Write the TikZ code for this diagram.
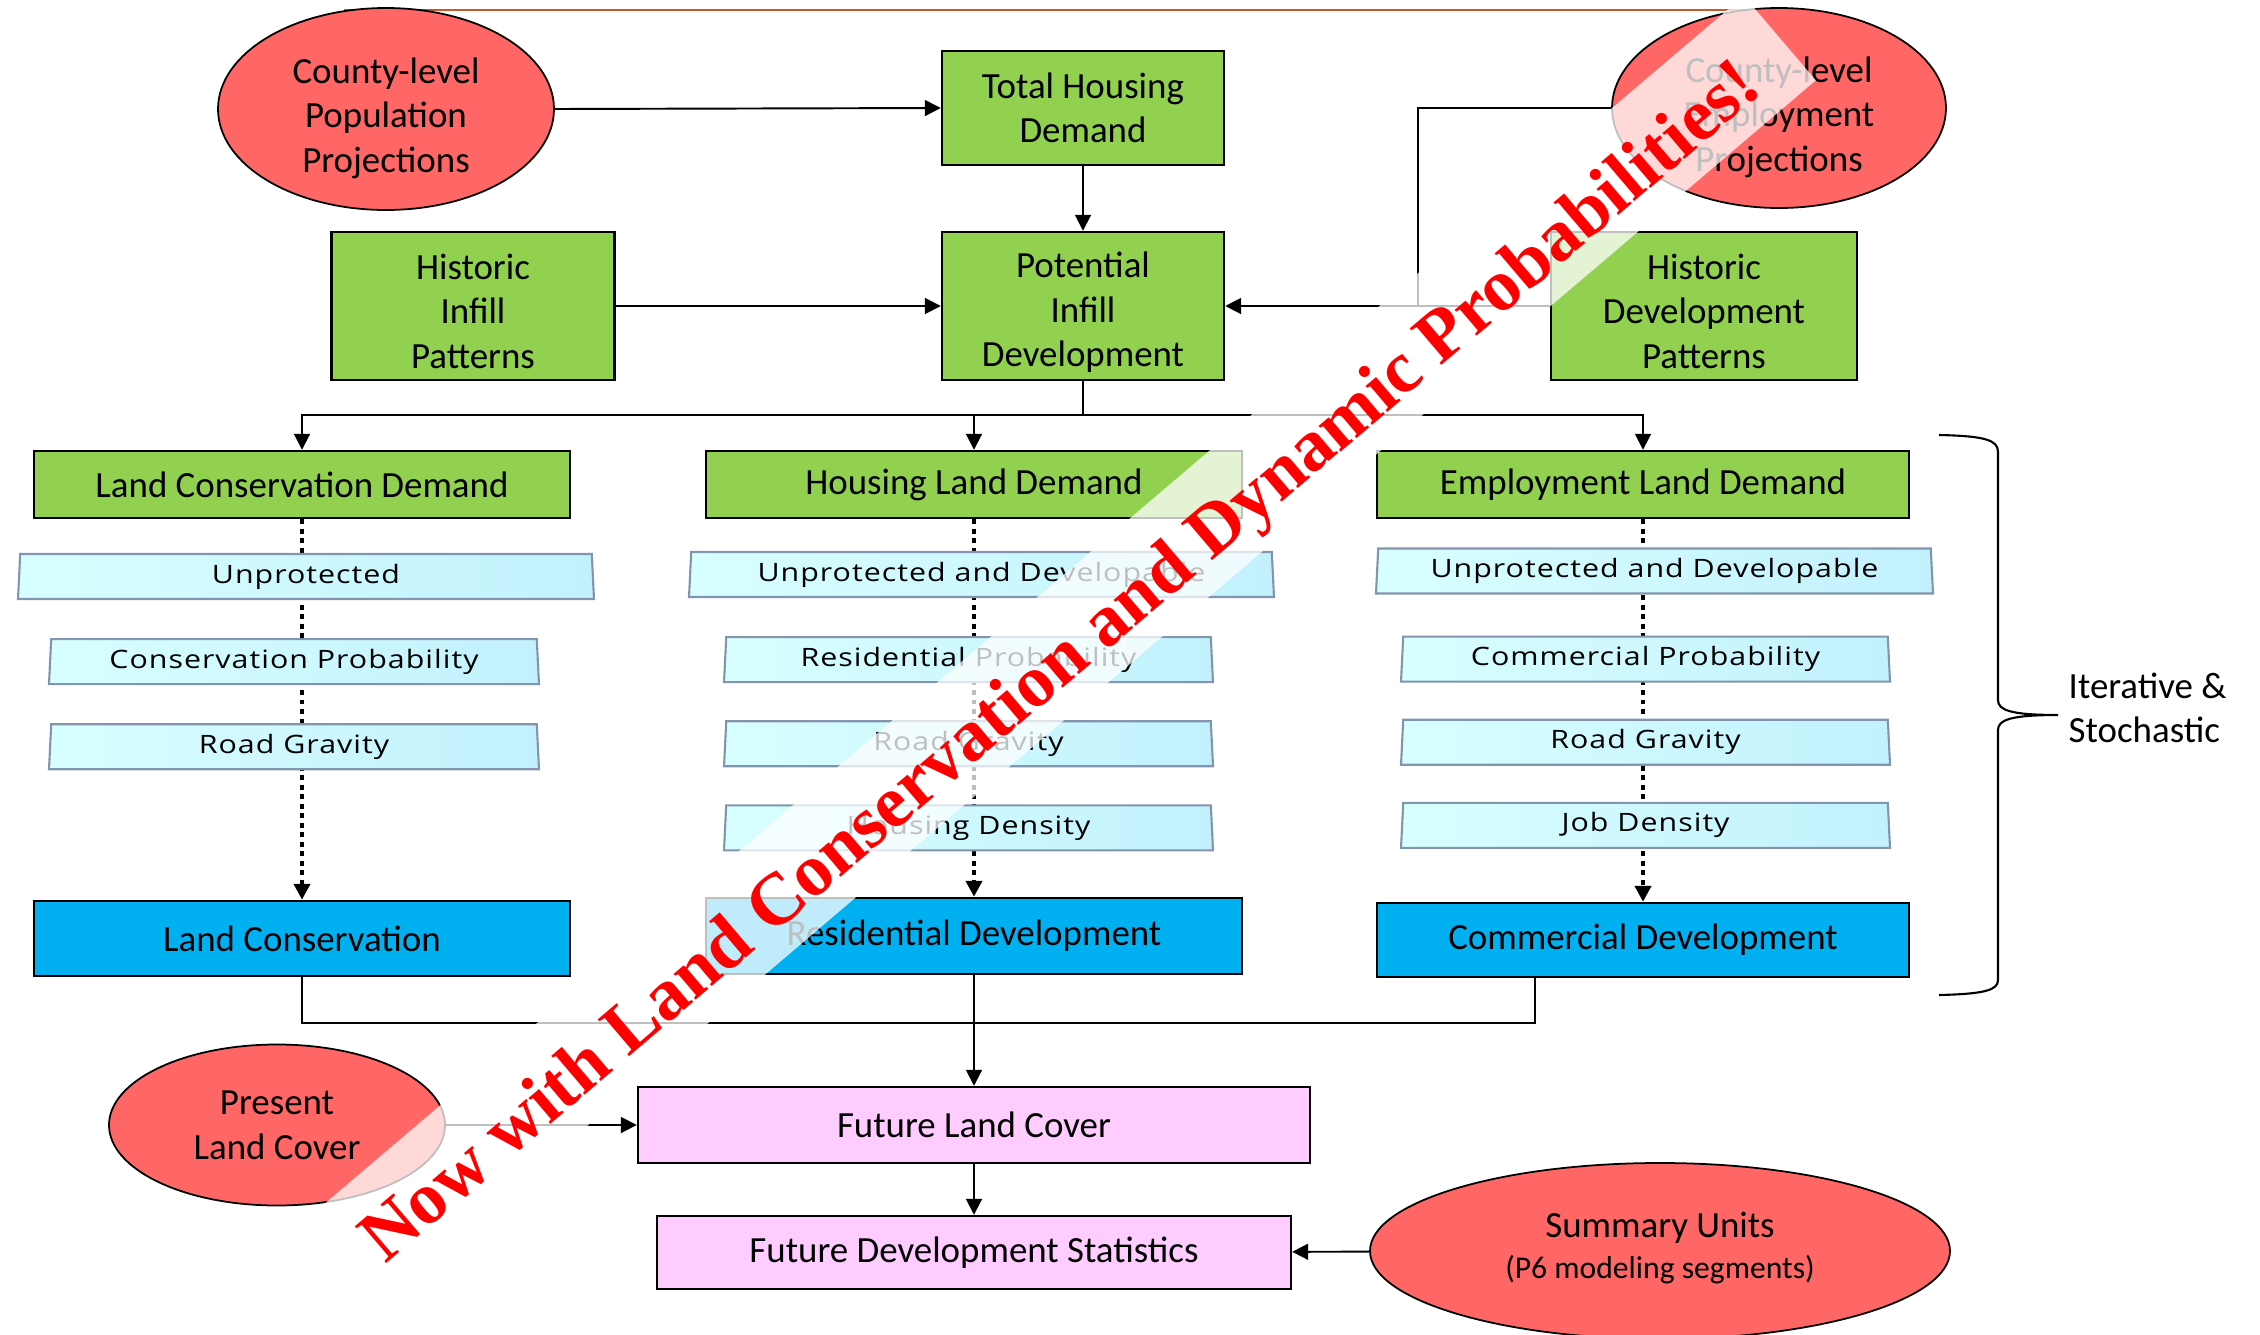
\documentclass[tikz,border=0pt]{standalone}
\usepackage{fontspec}
\setmainfont{Carlito}
\newfontfamily\trapfont{Open Sans}[FakeStretch=1.2, LetterSpace=4]
\newfontfamily\bannerfont{Liberation Serif}
\usepackage{xcolor}
\definecolor{boxgreen}{HTML}{92D050}
\definecolor{boxblue}{HTML}{00B0F0}
\definecolor{boxpink}{HTML}{FFCCFF}
\definecolor{ellred}{HTML}{FF6666}
\definecolor{trapleft}{HTML}{D8FFFF}
\definecolor{trapright}{HTML}{C2F1FD}
\definecolor{trapedge}{HTML}{8294AE}
\definecolor{ruleline}{HTML}{C65A2E}
\definecolor{bannerred}{HTML}{FF0000}
\usetikzlibrary{arrows.meta, positioning, shapes.geometric, calc}

\begin{document}
\begin{tikzpicture}[
    x=0.1mm, y=-0.1mm,
    font=\fontsize{10.5pt}{12.7pt}\selectfont,
    arr/.style={
        -{Triangle[length=4.5pt, width=4.5pt]},
        line width=0.55pt,
    },
    dotarr/.style={arr, line width=1.3pt, dash pattern=on 1.4pt off 1.3pt},
    link/.style={line width=0.55pt},
    greenbox/.style={
        rectangle, draw, line width=0.7pt, fill=boxgreen,
        align=center, inner sep=0pt,
    },
    bluebox/.style={greenbox, fill=boxblue},
    pinkbox/.style={greenbox, fill=boxpink},
    redell/.style={
        ellipse, draw, line width=0.5pt, fill=ellred,
        align=center, inner sep=0pt,
    },
    trapbox/.style={
        trapezium, trapezium left angle=85, trapezium right angle=85,
        trapezium stretches body, draw=trapedge, line width=0.6pt,
        left color=trapleft, right color=trapright,
        minimum height=4.5mm, inner sep=0pt, text=black,
        font=\trapfont\fontsize{7.2pt}{8.5pt}\selectfont,
    },
]
\useasboundingbox (0,0) rectangle (2260,1335);

% -- header rule --
\draw[ruleline, line width=0.8pt] (344,10) -- (1785,10);

% -- Top: projections and infill --
\node[redell, minimum width=33.6mm, minimum height=20.2mm] (popproj) at (386,109)
    {\rule{0pt}{4.4mm}County-level\\Population\\Projections};
\node[greenbox, minimum width=28.2mm, minimum height=11.4mm] (tothousing) at (1083,108)
    {Total Housing\\Demand};
\node[redell, minimum width=33.4mm, minimum height=20mm] (empproj) at (1779,108)
    {\rule{0pt}{4.4mm}County-level\\Employment\\Projections};
\node[greenbox, minimum width=28.3mm, minimum height=14.8mm] (histinfill) at (473,306)
    {\rule{0pt}{3.6mm}Historic\\Infill\\Patterns};
\node[greenbox, minimum width=28.2mm, minimum height=14.8mm] (potinfill) at (1083,306)
    {\rule{0pt}{3.8mm}Potential\\Infill\\Development};
\node[greenbox, minimum width=30.6mm, minimum height=14.8mm] (histdev) at (1704,306)
    {\rule{0pt}{3.6mm}Historic\\Development\\Patterns};

\draw[arr] (popproj.east) -- (tothousing.west);
\draw[arr] (tothousing) -- (potinfill);
\draw[arr] (histinfill) -- (potinfill);
\coordinate (merge) at (1418,306);
\draw[link] (empproj.west) -| (merge);
\draw[arr] (histdev) -- (potinfill);

% -- Demand row --
\node[greenbox, minimum width=53.6mm, minimum height=6.7mm] (landdem) at (302,484.5)
    {Land Conservation Demand};
\node[greenbox, minimum width=53.6mm, minimum height=6.7mm] (housedem) at (974,484.5)
    {Housing Land Demand};
\node[greenbox, minimum width=53.2mm, minimum height=6.7mm] (empdem) at (1643,484.5)
    {Employment Land Demand};

\coordinate (bus) at (1083,415);
\draw[link] (potinfill) -- (bus);
\draw[arr] (bus) -| (landdem.north);
\draw[arr] (bus) -| (housedem.north);
\draw[arr] (bus) -| (empdem.north);

% -- Development row --
\node[bluebox, minimum width=53.6mm, minimum height=7.5mm] (landcons) at (302,938.5)
    {Land Conservation};
\node[bluebox, minimum width=53.6mm, minimum height=7.6mm] (resdev) at (974,936)
    {Residential Development};
\node[bluebox, minimum width=53.2mm, minimum height=7.4mm] (comdev) at (1643,940)
    {Commercial Development};

\draw[dotarr] (landdem) -- (landcons);
\draw[dotarr] (housedem) -- (resdev);
\draw[dotarr] (empdem) -- (comdev);

% -- Filters: conservation --
\node[trapbox, minimum width=57.6mm] (unprot1) at (306,576.5) {Unprotected};
\node[trapbox, minimum width=49mm, below=3.8mm of unprot1, xshift=-1.2mm] (consprob)
    {Conservation Probability};
\node[trapbox, minimum width=49mm, below=3.8mm of consprob] (roadgrav1) {Road Gravity};

% -- Filters: housing --
\node[trapbox, minimum width=58.5mm] (unprot2) at (981.5,574.5) {Unprotected and Developable};
\node[trapbox, minimum width=48.9mm, below=3.8mm of unprot2, xshift=-1.3mm] (resprob)
    {Residential Probability};
\node[trapbox, minimum width=48.9mm, below=3.7mm of resprob] (roadgrav2) {Road Gravity};
\node[trapbox, minimum width=48.9mm, below=3.7mm of roadgrav2] (housdens) {Housing Density};

% -- Filters: employment --
\node[trapbox, minimum width=55.7mm] (unprot3) at (1654.5,571) {Unprotected and Developable};
\node[trapbox, minimum width=48.9mm, below=4.1mm of unprot3, xshift=-0.9mm] (comprob)
    {Commercial Probability};
\node[trapbox, minimum width=48.9mm, below=3.6mm of comprob] (roadgrav3) {Road Gravity};
\node[trapbox, minimum width=48.9mm, below=3.6mm of roadgrav3] (jobdens) {Job Density};

% -- Brace --
\draw[line width=0.6pt] (1939,435) .. controls (1985,436) and (1998,440) .. (1998,452)
    -- (1998,700) .. controls (1998,710) and (2010,715) .. (2058,715)
    .. controls (2010,715) and (1998,720) .. (1998,730)
    -- (1998,980) .. controls (1998,990) and (1985,994) .. (1939,995);
\node[anchor=west, align=left, inner sep=0pt] (iterlabel) at (2068,708)
    {Iterative \&\\Stochastic};

% -- Bottom: land cover and statistics --
\node[pinkbox, minimum width=67.2mm, minimum height=7.6mm] (futcover) at (974,1125)
    {Future Land Cover};
\node[pinkbox, minimum width=63.4mm, minimum height=7.3mm] (futstats) at (974,1252.5)
    {Future Development Statistics};
\node[redell, minimum width=33.6mm, minimum height=16.1mm] (presentlc) at (277,1125)
    {Present\\Land Cover};
\node[redell, minimum width=58mm, minimum height=17.6mm] (sumunits) at (1660,1251)
    {Summary Units\\[-1pt]{\fontsize{9pt}{11pt}\selectfont(P6 modeling segments)}%
    \rule[-1.2mm]{0pt}{0pt}};

\coordinate (join) at (974,1023);
\draw[link] (landcons) |- (join);
\draw[link] ([xshift=-10.8mm]comdev.south) |- (join);
\draw[arr] (resdev) -- (futcover);
\draw[arr] (futcover) -- (futstats);
\draw[arr] (presentlc) -- (futcover);
\draw[arr] (sumunits) -- (futstats);

% ============ BANNER ============
\node[rotate=40.4, anchor=base, fill=white, fill opacity=0.75, text opacity=1,
    text=bannerred, font=\bannerfont\bfseries\fontsize{21pt}{25pt}\selectfont,
    inner xsep=4.6mm, inner ysep=0pt, text height=8.6mm, text depth=2.5mm]
    (banner) at (1075,678) {Now with Land Conservation and Dynamic Probabilities!};

\end{tikzpicture}
\end{document}
